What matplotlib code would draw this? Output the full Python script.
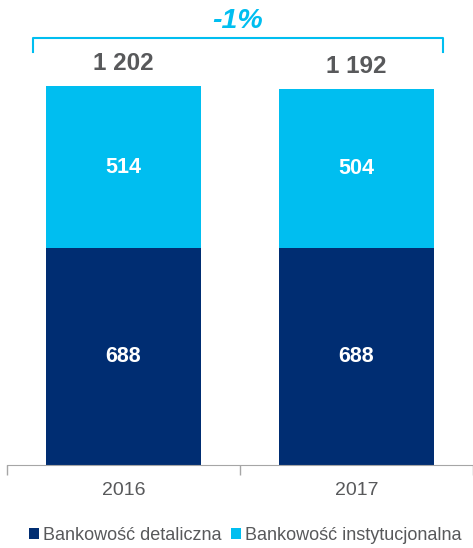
import matplotlib
matplotlib.use("Agg")
from matplotlib import pyplot as plt
import numpy as np

plt.rcParams['font.family'] = ['Liberation Sans', 'DejaVu Sans']

years = ["2016", "2017"]
retail = [688, 688]
corporate = [514, 504]
totals = [1202, 1192]
change_label = "-1%"
series_names = ["Bankowość detaliczna", "Bankowość instytucjonalna"]

navy = "#002D72"
cyan = "#00BEF0"
grey = "#58595B"

fig = plt.figure(figsize=(4.73, 5.48), dpi=100)
ax = fig.add_axes([7 / 473, 83 / 548, 466 / 473, 465 / 548])

x = np.arange(len(years))
w = 0.664
b1 = ax.bar(x, retail, w, color=navy, label=series_names[0])
b2 = ax.bar(x, corporate, w, bottom=retail, color=cyan, label=series_names[1])

for i in range(len(years)):
    ax.text(x[i], retail[i] / 2, str(retail[i]), ha="center", va="center",
            color="white", fontsize=15.5, fontweight="bold")
    ax.text(x[i], retail[i] + corporate[i] / 2, str(corporate[i]), ha="center",
            va="center", color="white", fontsize=15.5, fontweight="bold")
    tot = f"{totals[i]:,}".replace(",", " ")
    ax.text(x[i], totals[i] + 72, tot, ha="center", va="center",
            color=grey, fontsize=17.5, fontweight="bold")

# bracket with change
bx0, bx1 = -0.39, 1.372
ax.plot([bx0, bx0, bx1, bx1], [1310, 1354, 1354, 1310], color=cyan, lw=1.5,
        clip_on=False, solid_joinstyle="round")
ax.text((bx0 + bx1) / 2, 1408, change_label, ha="center", va="center",
        color=cyan, fontsize=20.5, fontweight="bold", style="italic")

ax.set_xlim(-0.5, 1.5)
ax.set_ylim(0, 1475)
ax.set_yticks([])
ax.set_xticks(x)
ax.set_xticklabels(years, fontsize=14, color=grey)
ax.tick_params(axis="x", which="major", length=0, pad=12)
ax.set_xticks([-0.5, 0.5, 1.5], minor=True)
ax.tick_params(axis="x", which="minor", length=7, color="#A6A6A6", width=1)
for s in ["top", "right", "left"]:
    ax.spines[s].set_visible(False)
ax.spines["bottom"].set_color("#A6A6A6")

fig.legend(handles=[b1, b2], loc="lower center", bbox_to_anchor=(0.519, -0.022),
           ncol=2, frameon=False, fontsize=13, handlelength=0.55,
           handleheight=0.55, handletextpad=0.25, columnspacing=0.5,
           labelcolor=grey)

fig.savefig("out.png", dpi=100)
